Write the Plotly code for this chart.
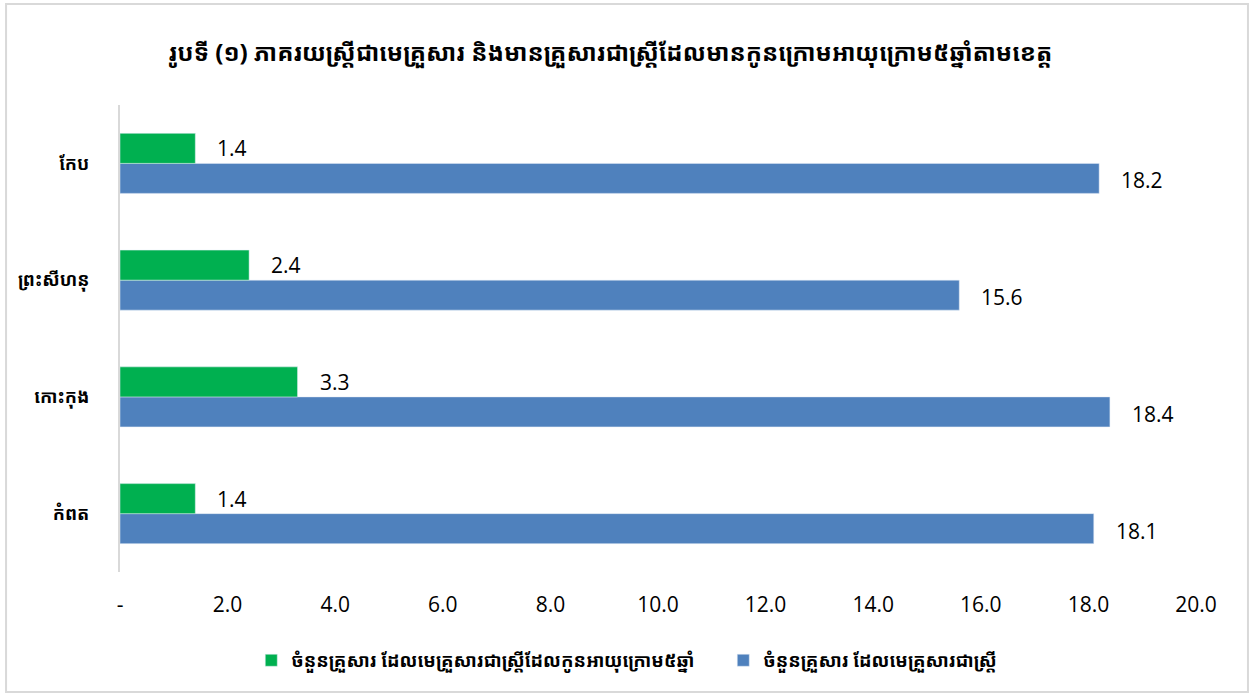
import plotly.graph_objects as go

categories = ["កំពត", "កោះកុង", "ព្រះសីហនុ", "កែប"]
green_values = [1.4, 3.3, 2.4, 1.4]
blue_values = [18.1, 18.4, 15.6, 18.2]
green_name = "ចំនួនគ្រួសារ ដែលមេគ្រួសារជាស្ត្រីដែលកូនអាយុក្រោម៥ឆ្នាំ"
blue_name = "ចំនួនគ្រួសារ ដែលមេគ្រួសារជាស្ត្រី"
title_text = "រូបទី (១) ភាគរយស្ត្រីជាមេគ្រួសារ និងមានគ្រួសារជាស្ត្រីដែលមានកូនក្រោមអាយុក្រោម៥ឆ្នាំតាមខេត្ត"
tick_vals = [0, 2, 4, 6, 8, 10, 12, 14, 16, 18, 20]
tick_text = ["-", "2.0", "4.0", "6.0", "8.0", "10.0", "12.0", "14.0", "16.0", "18.0", "20.0"]

GREEN = "#00b050"
BLUE = "#4f81bd"
KH = "Noto Sans Khmer, Khmer OS, Khmer OS System, Noto Sans, sans-serif"
NUM = "Open Sans, Noto Sans, sans-serif"

fig = go.Figure()
fig.add_trace(go.Bar(y=categories, x=blue_values, orientation="h", name=blue_name,
                     marker=dict(color=BLUE), legendrank=2, hoverinfo="x"))
fig.add_trace(go.Bar(y=categories, x=green_values, orientation="h", name=green_name,
                     marker=dict(color=GREEN), legendrank=1, hoverinfo="x"))

for c, v in zip(categories, green_values):
    fig.add_annotation(x=v, y=c, text=f"{v:.1f}", showarrow=False, xanchor="left",
                       xshift=20, yshift=15, font=dict(family=NUM, size=21, color="#000000"))
for c, v in zip(categories, blue_values):
    fig.add_annotation(x=v, y=c, text=f"{v:.1f}", showarrow=False, xanchor="left",
                       xshift=20, yshift=-17, font=dict(family=NUM, size=21, color="#000000"))

# chart-area border
fig.add_shape(type="rect", xref="paper", yref="paper",
              x0=-0.1059, x1=1.0483, y0=-0.2570, y1=1.2163,
              line=dict(color="#d9d9d9", width=2), fillcolor="rgba(0,0,0,0)", layer="below")

fig.update_layout(
    width=1251, height=695,
    margin=dict(l=120, r=55, t=105, b=123, autoexpand=False),
    paper_bgcolor="white", plot_bgcolor="white",
    barmode="group", bargap=0.486, bargroupgap=0,
    title=dict(text=title_text, x=0.488, xref="container", xanchor="center",
               y=0.924, yref="container", yanchor="middle",
               font=dict(family=KH, size=24, color="#000000", weight="bold")),
    xaxis=dict(range=[0, 20], tickvals=tick_vals, ticktext=tick_text, showgrid=False,
               zeroline=False, showline=False, ticks="", ticklabelstandoff=18, automargin=False,
               tickfont=dict(family=NUM, size=21, color="#000000"), fixedrange=True),
    yaxis=dict(showline=True, linecolor="#d9d9d9", linewidth=2, showgrid=False, ticks="",
               ticklabelstandoff=25, automargin=False,
               tickfont=dict(family=KH, size=18, color="#000000", weight="bold"),
               fixedrange=True),
    legend=dict(orientation="h", x=0.122, xref="paper", y=-0.19, yanchor="middle",
                font=dict(family=KH, size=18.5, color="#000000", weight="bold"),
                entrywidth=427, entrywidthmode="pixels", traceorder="normal"),
    showlegend=True,
)

fig.write_html("out.html", config={"displayModeBar": False},
               post_script="document.body.style.margin='0';document.body.style.overflow='hidden';")
